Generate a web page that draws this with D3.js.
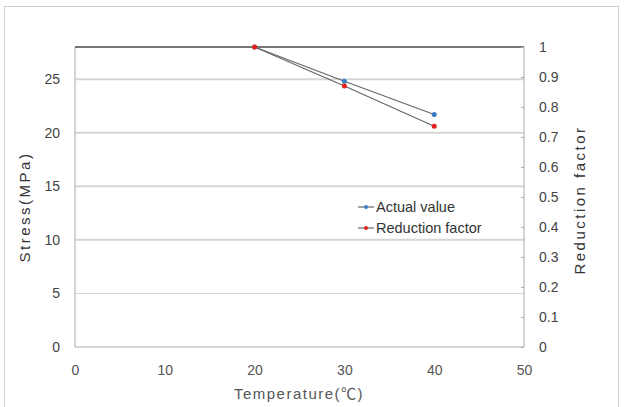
<!DOCTYPE html>
<html>
<head>
<meta charset="utf-8">
<script src="https://cdn.jsdelivr.net/npm/d3@7"></script>
<style>
  body { margin: 0; background: #fff; }
  text { font-family: "Liberation Sans", "Noto Sans CJK KR", sans-serif; fill: #333; }
</style>
</head>
<body>
<div id="chart"></div>
<script>
// data
var temps = [20, 30, 40];
var actualValue = [28, 24.8, 21.7];          // MPa, left axis
var reductionFactor = [1, 0.87, 0.736];      // right axis
var stressTicks = [0, 5, 10, 15, 20, 25];
var factorTicks = [0, 0.1, 0.2, 0.3, 0.4, 0.5, 0.6, 0.7, 0.8, 0.9, 1];
var tempTicks = [0, 10, 20, 30, 40, 50];

var W = 624, H = 407;
var margin = {top: 47, right: 100, bottom: 60, left: 75};
var width = 524 - margin.left;
var height = 347 - margin.top;

var svg = d3.select("#chart").append("svg")
    .attr("width", W)
    .attr("height", H);

// outer frame
svg.append("rect")
    .attr("x", 4.5).attr("y", 6.5)
    .attr("width", 614).attr("height", 410)
    .attr("fill", "none")
    .attr("stroke", "#cfcfcf");

var g = svg.append("g")
    .attr("transform", "translate(" + margin.left + "," + margin.top + ")");

var x = d3.scaleLinear().domain([0, 50]).range([0, width]);
var yL = d3.scaleLinear().domain([0, 28]).range([height, 0]);
var yR = d3.scaleLinear().domain([0, 1]).range([height, 0]);

// gridlines
g.selectAll(".grid")
    .data(stressTicks.filter(d => d > 0))
  .enter().append("line")
    .attr("x1", 0).attr("x2", width)
    .attr("y1", d => yL(d)).attr("y2", d => yL(d))
    .attr("stroke", "#d6d6d6")
    .attr("stroke-width", d => d === 5 ? 1 : 2);

// plot border
g.append("line").attr("x1", 0).attr("x2", 0).attr("y1", 0).attr("y2", height).attr("stroke", "#aaa");
g.append("line").attr("x1", 0).attr("x2", width).attr("y1", height).attr("y2", height).attr("stroke", "#aaa");
g.append("line").attr("x1", width).attr("x2", width).attr("y1", 0).attr("y2", height).attr("stroke", "#aaa");
g.append("line").attr("x1", 0).attr("x2", width).attr("y1", 0).attr("y2", 0)
    .attr("stroke", "#777").attr("stroke-width", 2);

// left axis
var axL = g.append("g")
    .call(d3.axisLeft(yL).tickValues(stressTicks).tickSize(0).tickPadding(15));
axL.select(".domain").remove();
axL.selectAll("text").style("font-size", "14px").style("fill", "#444");

// right axis
var axR = g.append("g")
    .attr("transform", "translate(" + width + ",0)")
    .call(d3.axisRight(yR).tickValues(factorTicks).tickFormat(d3.format("~g")).tickSizeInner(-3).tickSizeOuter(0).tickPadding(15));
axR.select(".domain").remove();
axR.selectAll("line").attr("stroke", "#aaa");
axR.selectAll("text").style("font-size", "14px").style("fill", "#444");

// bottom axis
var axB = g.append("g")
    .attr("transform", "translate(0," + height + ")")
    .call(d3.axisBottom(x).tickValues(tempTicks).tickSize(0).tickPadding(18));
axB.select(".domain").remove();
axB.selectAll("text").style("font-size", "14px").style("fill", "#555");

// axis titles
svg.append("text")
    .attr("x", 299).attr("y", 399)
    .attr("text-anchor", "middle")
    .style("font-size", "15px").style("fill", "#555").style("letter-spacing", "1.5px")
    .text("Temperature(℃)");

svg.append("text")
    .attr("transform", "translate(30,207) rotate(-90)")
    .attr("text-anchor", "middle")
    .style("font-size", "15px").style("fill", "#333").style("letter-spacing", "2.5px")
    .text("Stress(MPa)");

svg.append("text")
    .attr("transform", "translate(585,200) rotate(-90)")
    .attr("text-anchor", "middle")
    .style("font-size", "15px").style("fill", "#333").style("letter-spacing", "2.5px")
    .text("Reduction  factor");

// series
var series = [
  {name: "Actual value", color: "#3b7dc4", pts: temps.map((t, i) => [x(t), yL(actualValue[i])])},
  {name: "Reduction factor", color: "#e3201b", pts: temps.map((t, i) => [x(t), yR(reductionFactor[i])])}
];

var line = d3.line();
series.forEach(function(s) {
  g.append("path")
      .attr("d", line(s.pts))
      .attr("fill", "none")
      .attr("stroke", "#666")
      .attr("stroke-width", 1.2);
  g.selectAll(null)
      .data(s.pts)
    .enter().append("circle")
      .attr("cx", d => d[0]).attr("cy", d => d[1])
      .attr("r", 2.5)
      .attr("fill", s.color);
});

// legend
var legend = svg.append("g").attr("transform", "translate(358,207)");
series.forEach(function(s, i) {
  var row = legend.append("g").attr("transform", "translate(0," + (i * 21) + ")");
  row.append("line").attr("x1", 0).attr("x2", 16).attr("stroke", "#666").attr("stroke-width", 1.2);
  row.append("circle").attr("cx", 8).attr("r", 2).attr("fill", s.color);
  row.append("text").attr("x", 18).attr("y", 5)
      .style("font-size", "14.5px").style("fill", "#333")
      .text(s.name);
});
</script>
</body>
</html>
